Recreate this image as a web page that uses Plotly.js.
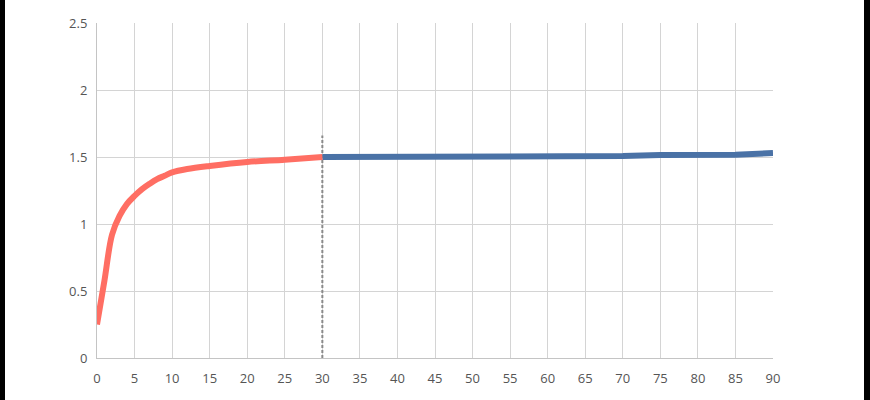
<!DOCTYPE html>
<html>
<head>
<meta charset="utf-8">
<script src="https://cdn.plot.ly/plotly-3.0.1.min.js"></script>
<style>
  html, body { margin: 0; padding: 0; background: #000; width: 870px; height: 400px; overflow: hidden; }
  #chart { position: absolute; left: 5px; top: 0; width: 859px; height: 400px; background: #fff; }
</style>
</head>
<body>
<div id="chart"></div>
<script>
// Early phase (red)
const earlyX = [0, 1, 2, 3, 4, 5, 6, 7, 8, 9, 10, 12, 15, 20, 25, 30];
const earlyY = [0.25, 0.58, 0.92, 1.06, 1.15, 1.21, 1.26, 1.30, 1.335, 1.36, 1.385, 1.41, 1.433, 1.463, 1.48, 1.5];
// Later phase (blue)
const lateX = [30, 35, 40, 45, 50, 55, 60, 65, 70, 75, 80, 85, 90];
const lateY = [1.5, 1.5, 1.5, 1.5, 1.5, 1.5, 1.5, 1.5, 1.507, 1.515, 1.516, 1.516, 1.53];
// Divider (dashed vertical)
const dividerX = [30, 30];
const dividerY = [0, 1.66];
// Ticks
const xTicks = [0,5,10,15,20,25,30,35,40,45,50,55,60,65,70,75,80,85,90];
const yTicks = [0, 0.5, 1, 1.5, 2, 2.5];
const yTickLabels = ['0', '0.5', '1', '1.5', '2', '2.5'];

const traces = [
  { x: dividerX, y: dividerY, mode: 'lines', line: { color: '#8a8a8a', width: 2, dash: '3px,2px' }, hoverinfo: 'skip', showlegend: false },
  { x: lateX, y: lateY, mode: 'lines', line: { color: '#4a72a6', width: 6 }, showlegend: false },
  { x: earlyX, y: earlyY, mode: 'lines', line: { color: '#ff6e63', width: 6, shape: 'spline', smoothing: 1 }, showlegend: false }
];

const font = { family: '"Open Sans", Lato, sans-serif', size: 13, color: '#555' };

const layout = {
  width: 859, height: 400,
  margin: { l: 92, r: 91, t: 23, b: 42 },
  paper_bgcolor: '#fff', plot_bgcolor: '#fff',
  showlegend: false,
  font: font,
  xaxis: {
    range: [0, 90], tickvals: xTicks, ticktext: xTicks.map(String),
    showgrid: true, gridcolor: '#d4d4d4', gridwidth: 1,
    zeroline: false, showline: true, linecolor: '#c4c4c4', linewidth: 1, mirror: false,
    ticks: '', tickfont: font, ticklabelstandoff: 8, fixedrange: true
  },
  yaxis: {
    range: [0, 2.5], tickvals: yTicks, ticktext: yTickLabels,
    showgrid: true, gridcolor: '#d4d4d4', gridwidth: 1,
    zeroline: false, showline: true, linecolor: '#c4c4c4', linewidth: 1,
    ticks: '', tickfont: font, ticklabelstandoff: 6, fixedrange: true
  }
};

Plotly.newPlot('chart', traces, layout, { displayModeBar: false, staticPlot: true });
</script>
</body>
</html>
